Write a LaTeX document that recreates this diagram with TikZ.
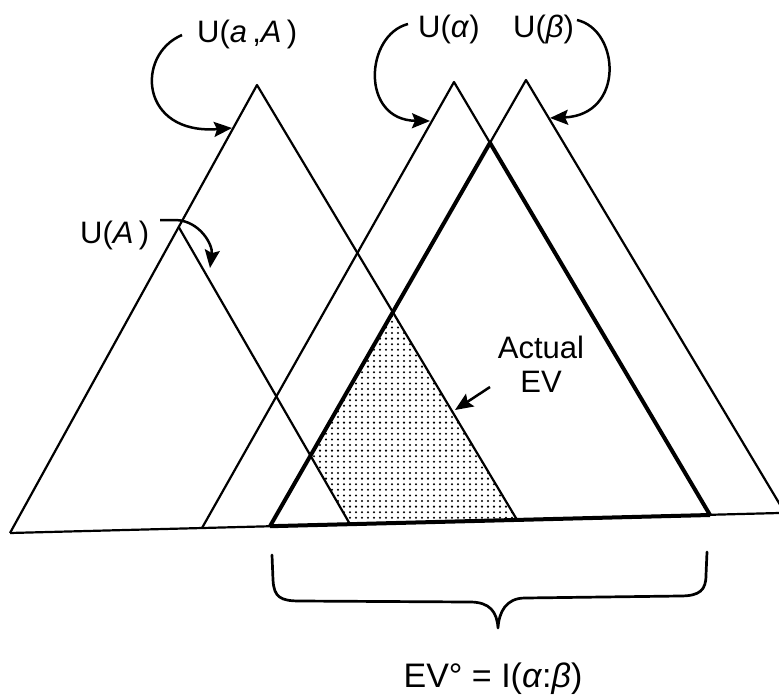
\documentclass[tikz,border=0pt]{standalone}
\usepackage{fontspec}
\setmainfont{Liberation Sans}
\usetikzlibrary{arrows.meta}
\begin{document}
\begin{tikzpicture}[x=1pt,y=-1pt,
  tline/.style={line width=2.2pt, line join=round},
  kline/.style={line width=4pt, line join=round},
  pointer/.style={line width=2.5pt, -{Stealth[length=18pt,width=15pt,inset=3pt]}},
  lab/.style={inner sep=0pt, anchor=base west, font=\fontsize{31}{34}\selectfont},
  bracepath/.style={line width=2.7pt, line cap=round, line join=round},
  dotmark/.style={fill=black},
]
\clip (0,0) rectangle (779,694);
% triangle vertices
\coordinate (L0) at (10,533);
\coordinate (R0) at (779,513);
\coordinate (T1a) at (257,85);
\coordinate (T1r) at (517,519.8);
\coordinate (UAa) at (178.7,227);
\coordinate (UAr) at (350,524.2);
\coordinate (Aa) at (454,82);
\coordinate (Al) at (202,528);
\coordinate (Ar) at (710,515);
\coordinate (Ba) at (526,80);
\coordinate (Bl) at (270,526.2);
\coordinate (Br) at (785,513);
\coordinate (E) at (intersection of Aa--Ar and Ba--Bl);
\coordinate (S1) at (intersection of T1a--T1r and Ba--Bl);
\coordinate (S2) at (intersection of UAa--UAr and Ba--Bl);
% shaded actual EV region (dot screen)
\begin{scope}
  \clip (S1) -- (T1r) -- (UAr) -- (S2) -- cycle;
  \foreach \dy in {0,...,40} {
    \foreach \dx in {0,...,38} {
      \fill[dotmark] (302+6*\dx,305+5.6*\dy) circle[radius=1.15pt];
    }
  }
\end{scope}
% thin lines
\draw[tline] (L0) -- (R0);
\draw[tline] (L0) -- (T1a) -- (T1r);
\draw[tline] (UAa) -- (UAr);
\draw[tline] (Al) -- (Aa) -- (E);
\draw[tline] (E) -- (Ba) -- (Br);
% thick EV triangle
\draw[kline] (Bl) -- (E) -- (Ar);
\draw[kline] (Bl) -- (Ar);
% labels
\node[lab] (laA) at (197,42) {U(\textit{a}\,,\textit{A}\,)};
\node[lab] (lal) at (418,37) {U(\textit{α})};
\node[lab] (lbe) at (513,37) {U(\textit{β})};
\node[lab] (lUA) at (80,243) {U(\textit{A}\,)};
\node[lab, anchor=base, align=center] (lev) at (541,392) {Actual\\EV};
\node[lab, anchor=base, font=\fontsize{34}{40}\selectfont] (lio) at (493,687) {EV° = I(\textit{α}:\textit{β})};
% arrow ends
\coordinate (pA1) at (182,35);  \coordinate (pA2) at (232,128);
\coordinate (pa1) at (408,24);  \coordinate (pa2) at (430,121);
\coordinate (pb1) at (577,20);  \coordinate (pb2) at (550,118);
\coordinate (pU1) at (160,220); \coordinate (pU2) at (210,268);
\coordinate (pE1) at (490,387); \coordinate (pE2) at (455,410);
\draw[pointer] (pA1) .. controls (135,55) and (140,135) .. (pA2);
\draw[pointer] (pa1) .. controls (365,35) and (360,120) .. (pa2);
\draw[pointer] (pb1) .. controls (620,30) and (625,115) .. (pb2);
\draw[pointer] (pU1) -- (176,220) .. controls (200,221) and (213,245) .. (pU2);
\draw[pointer] (pE1) -- (pE2);
% brace
\coordinate (bL) at (272,555);
\coordinate (bT) at (498,628);
\coordinate (bR) at (707,552);
\draw[bracepath] (bL) -- (273,580) .. controls (274,597) and (280,601) .. (300,601)
  -- (470,602) .. controls (490,602) and (497,612) .. (bT)
  .. controls (499,612) and (506,598) .. (525,598)
  -- (680,596) .. controls (700,596) and (706,590) .. (706,575) -- (bR);
\end{tikzpicture}
\end{document}
